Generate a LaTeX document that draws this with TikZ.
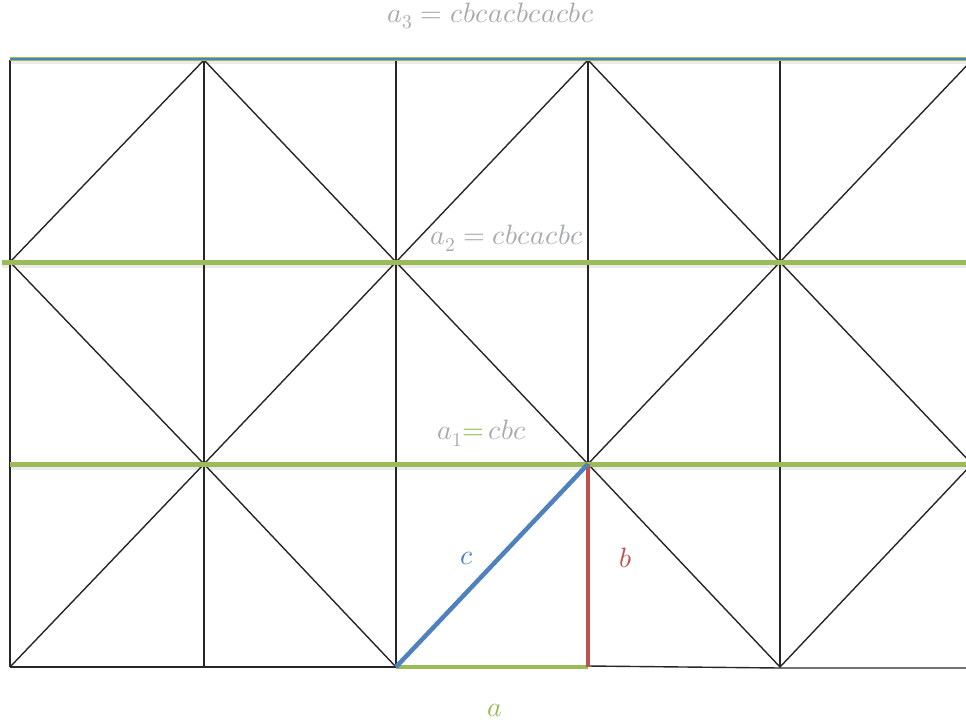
\documentclass[tikz,border=0pt]{standalone}
\usepackage{unicode-math}
\definecolor{ogreen}{HTML}{9BBB59}
\definecolor{oblue}{HTML}{4F81BD}
\definecolor{ored}{HTML}{C0504D}
\definecolor{lblgray}{HTML}{A8ABAE}
\tikzset{
  gridline/.style={line width=1.4pt, draw=black!85},
  greenline/.style={line width=5pt, draw=ogreen},
  shadowline/.style={line width=4pt, draw=black!8},
  lbl/.style={inner sep=0pt, font=\fontsize{28}{31}\selectfont},
}
\begin{document}
\begin{tikzpicture}[x=1pt,y=-1pt]
\useasboundingbox (0,0) rectangle (966,726);
\clip (0,0) rectangle (966,726);
% grid points
\foreach \i/\xx in {0/10,1/204,2/396,3/588,4/780,5/972}{
  \foreach \j/\yy in {0/60,1/262,2/464,3/667}{
    \coordinate (p\i\j) at (\xx,\yy);
  }
}
\coordinate (g1s) at (2,262);
\coordinate (g1e) at (966,262);
\coordinate (g2e) at (966,464);
\coordinate (g0e) at (966,59);
\coordinate (g0s) at (10,59);
\coordinate (b3) at (588,666);
\coordinate (b4) at (780,668);
\coordinate (b5) at (972,668);
% shadows under green lines
\draw[shadowline] ([yshift=-3pt]g0s) -- ([yshift=-3pt]g0e);
\draw[shadowline] ([yshift=-3.5pt]g1s) -- ([yshift=-3.5pt]g1e);
\draw[shadowline] ([yshift=-3.5pt]p02) -- ([yshift=-3.5pt]g2e);
% verticals
\foreach \i in {0,1,2,3,4}{
  \draw[gridline] (p\i0) -- (p\i3);
}
% bottom line
\draw[gridline] (p03) -- (p23);
\draw[gridline] (b3) -- (b4) -- (b5);
% diagonals row 1
\draw[gridline] (p01) -- (p10) -- (p21) -- (p30) -- (p41) -- (p50);
% diagonals row 2
\draw[gridline] (p01) -- (p12) -- (p21) -- (p32) -- (p41) -- (p52);
% diagonals row 3
\draw[gridline] (p03) -- (p12) -- (p23);
\draw[gridline] (p32) -- (p43) -- (p52);
% green horizontals
\draw[line width=4.5pt, draw=ogreen] (g0s) -- (g0e);
\draw[line width=1.6pt, draw=oblue] (g0s) -- (g0e);
\draw[greenline] (g1s) -- (g1e);
\draw[greenline] (p02) -- (g2e);
% triangle a, b, c
\draw[line width=4pt, draw=ogreen] (p23) -- (p33);
\draw[line width=4pt, draw=ored] (p32) -- (p33);
\draw[line width=4.5pt, draw=oblue] (p23) -- (p32);
% labels
\node[lbl, text=lblgray] (la3) at (491,16) {$a_3=cbcacbcacbc$};
\node[lbl, text=lblgray] (la2) at (507,238) {$a_2=cbcacbc$};
\node[lbl, anchor=west] (la1) at (437,433) {\textcolor{lblgray}{$a_1$}\textcolor{ogreen}{$=$}\textcolor{lblgray}{$\,cbc$}};
\node[lbl, text=oblue] (lc) at (467,558) {$c$};
\node[lbl, text=ored] (lb) at (626,558) {$b$};
\node[lbl, text=ogreen] (la) at (495,710) {$a$};
\end{tikzpicture}
\end{document}
